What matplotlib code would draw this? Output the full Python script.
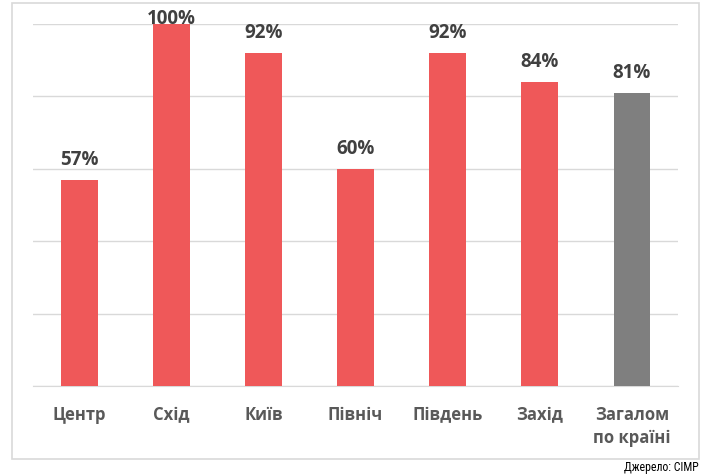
import matplotlib.pyplot as plt
from matplotlib.patches import Rectangle

# Regions and share values
regions = ['Центр', 'Схід', 'Київ', 'Північ', 'Південь', 'Захід', 'Загалом\nпо країні']
values = [57, 100, 92, 60, 92, 84, 81]
colors = ['#EF5859'] * 6 + ['#7F7F7F']
yticks = [0, 20, 40, 60, 80, 100]

W, H = 708, 477
fig = plt.figure(figsize=(W / 100, H / 100), dpi=100)
plt.rcParams['font.family'] = ['Open Sans', 'DejaVu Sans']

# outer frame of the chart
fig.patches.append(Rectangle((12 / W, 1 - 460 / H), 687 / W, 456 / H,
                             transform=fig.transFigure, fill=False,
                             edgecolor='#D9D9D9', linewidth=1.2))

ax = fig.add_axes([33 / W, 1 - 387 / H, 645 / W, 362 / H])
x = range(len(regions))
bars = ax.bar(x, values, width=0.4, color=colors, zorder=3)
ax.set_xlim(-0.5, len(regions) - 0.5)
ax.set_ylim(0, 100)
ax.set_yticks(yticks)
ax.yaxis.grid(True, color='#D9D9D9', linewidth=1, zorder=0)
ax.tick_params(left=False, labelleft=False, bottom=False)
for s in ['top', 'right', 'left']:
    ax.spines[s].set_visible(False)
ax.spines['bottom'].set_color('#D9D9D9')
ax.set_xticks(list(x))
ax.set_xticklabels(regions, fontsize=12, fontweight='bold', color='#595959',
                   linespacing=1.4, va='top')
ax.tick_params(axis='x', pad=10)

for b, v in zip(bars, values):
    # labels that would leave the plot are pushed down onto the bar top
    off = 11 if v < 95 else -4
    ax.annotate('{0}%'.format(v), (b.get_x() + b.get_width() / 2, v),
                xytext=(0, off), textcoords='offset pixels', ha='center',
                va='bottom', fontsize=13.5, fontweight='bold', color='#404040',
                clip_on=False, zorder=4)

fig.text(699 / W, 1 - 468 / H, 'Джерело: СІМР', ha='right', va='center',
         fontsize=8.5, color='#000000',
         family=['Roboto Condensed', 'Liberation Sans Narrow', 'Roboto'])

fig.savefig('out.png', dpi=100)
